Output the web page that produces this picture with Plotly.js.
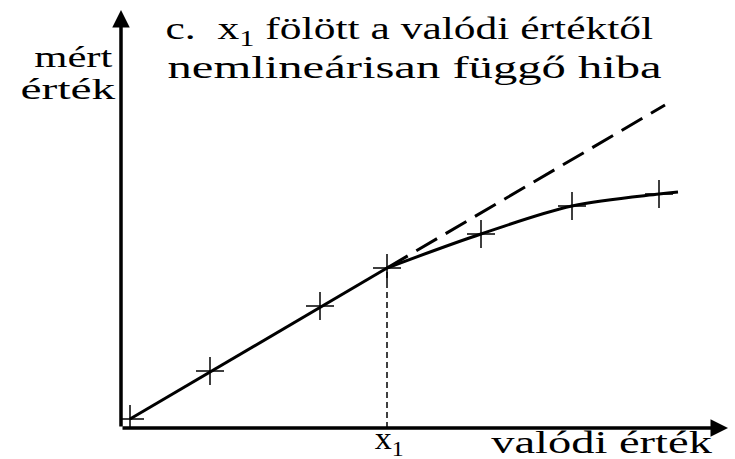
<!DOCTYPE html>
<html>
<head>
<meta charset="utf-8">
<script src="https://cdn.plot.ly/plotly-3.0.1.min.js"></script>
<style>
html,body{margin:0;padding:0;background:#fff}
/* widen the serif lettering horizontally around each label's centre */
#chart g.annotation text.annotation-text{transform-box:fill-box;transform-origin:50% 50%}
#chart g.annotation[data-index="2"] text.annotation-text{transform:scaleX(1.36)}
#chart g.annotation[data-index="3"] text.annotation-text{transform:scaleX(1.52)}
#chart g.annotation[data-index="4"] text.annotation-text{transform:scaleX(1.42)}
#chart g.annotation[data-index="5"] text.annotation-text{transform:scaleX(1.58)}
#chart g.annotation[data-index="6"] text.annotation-text{transform:scaleX(1.5)}
#chart g.annotation[data-index="7"] text.annotation-text{transform:scaleX(1.1)}
</style>
</head>
<body>
<div id="chart" style="width:735px;height:459px"></div>
<script>
// Measured points (true value -> measured value), arbitrary units
const measX = [9, 89, 199, 266, 360, 451, 538];
const measY = [9, 57, 122, 160, 194, 222, 234];
// Linear part up to x1
const linX = [9, 266];
const linY = [9, 160];
// Nonlinear part above x1
const curveX = [266, 360, 451, 538, 557];
const curveY = [160, 194, 222, 234, 236];
// Ideal linear continuation (dashed)
const idealX = [266, 544];
const idealY = [160, 323];
// Position of x1 on the true-value axis
const x1 = 266;
const x1Level = 160;

const serif = "Liberation Serif";
const big = {family: serif, size: 32, color: '#000'};
const mid = {family: serif, size: 31, color: '#000'};
const small = {family: serif, size: 30, color: '#000'};

const traces = [
  {x: linX, y: linY, mode: 'lines', line: {color: '#000', width: 3}, hoverinfo: 'skip'},
  {x: curveX, y: curveY, mode: 'lines', line: {color: '#000', width: 3, shape: 'spline'}, hoverinfo: 'skip'},
  {x: idealX, y: idealY, mode: 'lines', line: {color: '#000', width: 3, dash: '24px,10px'}, hoverinfo: 'skip'},
  {x: [x1, x1], y: [0, x1Level], mode: 'lines', line: {color: '#000', width: 1.5, dash: '6px,4px'}, hoverinfo: 'skip'},
  {x: measX, y: measY, mode: 'markers',
   marker: {symbol: 'cross-thin', size: 20, line: {color: '#000', width: 1.5}}, hoverinfo: 'skip'}
];

const label = (x, y, text, font, xref) => ({
  xref: xref || 'paper', yref: 'paper', x: x, y: y, xanchor: 'center', yanchor: 'middle',
  showarrow: false, font: font, text: text
});

const layout = {
  width: 735, height: 459,
  margin: {l: 121, r: 7, t: 10, b: 31},
  paper_bgcolor: '#fff', plot_bgcolor: '#fff',
  showlegend: false,
  font: big,
  xaxis: {range: [0, 607], visible: false, fixedrange: true},
  yaxis: {range: [0, 418], visible: false, fixedrange: true},
  annotations: [
    // axes with arrowheads
    {x: 0, y: 418, ax: 0, ay: 0, xref: 'x', yref: 'y', axref: 'x', ayref: 'y',
     showarrow: true, arrowhead: 2, arrowsize: 1, arrowwidth: 3.5, arrowcolor: '#000', text: ''},
    {x: 607, y: 0, ax: 0, ay: 0, xref: 'x', yref: 'y', axref: 'x', ayref: 'y',
     showarrow: true, arrowhead: 2, arrowsize: 1, arrowwidth: 3.5, arrowcolor: '#000', text: ''},
    // heading, two lines
    label(0.476, 0.951, 'c.\u00a0 x<sub>1</sub> fölött a valódi értéktől', big),
    label(0.483, 0.864, 'nemlineárisan függő hiba', big),
    // y-axis label
    label(-0.078, 0.888, 'mért', small),
    label(-0.087, 0.812, 'érték', small),
    // x-axis labels
    label(0.793, -0.035, 'valódi érték', mid),
    label(x1 + 2, -0.032, 'x<sub>1</sub>', mid, 'x')
  ]
};

Plotly.newPlot('chart', traces, layout, {displayModeBar: false, staticPlot: true});
</script>
</body>
</html>
